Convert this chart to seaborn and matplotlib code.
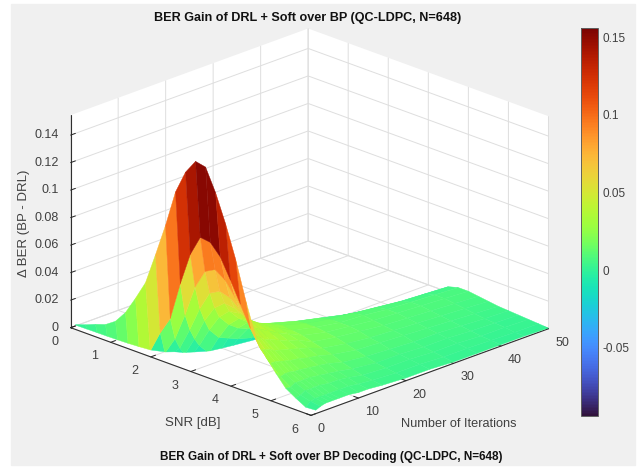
import numpy as np
import matplotlib
matplotlib.use('Agg')
import matplotlib.pyplot as plt
import seaborn as sns
from matplotlib.patches import Rectangle
from mpl_toolkits.mplot3d import proj3d
from mpl_toolkits.mplot3d.art3d import Poly3DCollection

sns.set_style('white')
plt.rcParams['font.family'] = ['Liberation Sans', 'DejaVu Sans']

# values
snr = [0, .25, .5, .75, 1, 1.25, 1.5, 1.75, 2, 2.25, 2.5, 2.75, 3, 3.25, 3.5, 3.75, 4, 4.25, 4.5, 4.75, 5, 5.25, 5.5, 5.75, 6]
iters = [1, 2, 3, 4, 5, 6, 8, 10, 12, 15, 20, 25, 30, 35, 40, 45, 50]

gain_i1 = [.001, .0035, .0065, .009, .014, .023, .036, .05, .073, .097, .124, .141, .1515, .15, .134, .114, .091, .064, .04, .028, .019, .0105, .006, .002, .0025]
gain_i2 = [-.003, -.008, -.012, -.015, -.018, -.02, -.014, -.001, .015, .028, .056, .08, .095, .094, .086, .072, .057, .042, .03, .022, .015, .01, .007, .005, .004]
gain_i3 = [-.006, -.012, -.018, -.024, -.028, -.03, -.026, -.014, -.001, .012, .032, .055, .069, .073, .068, .058, .047, .036, .028, .022, .016, .012, .009, .006, .005]
gain_i4 = [-.008, -.015, -.022, -.03, -.036, -.04, -.036, -.022, -.004, .004, .02, .038, .052, .056, .054, .048, .04, .033, .027, .021, .016, .012, .009, .006, .005]
gain_i5 = [-.01, -.018, -.026, -.034, -.042, -.046, -.042, -.028, -.012, -.002, .012, .028, .04, .046, .045, .042, .036, .03, .025, .02, .015, .012, .009, .006, .005]
gain_i6 = [-.012, -.02, -.03, -.038, -.046, -.05, -.046, -.032, -.018, -.006, .006, .02, .032, .039, .04, .038, .034, .029, .024, .019, .015, .012, .009, .006, .005]
gain_i8 = [-.014, -.024, -.034, -.044, -.052, -.056, -.05, -.038, -.026, -.012, -.002, .012, .024, .031, .033, .032, .03, .026, .022, .018, .014, .011, .008, .006, .005]
gain_i10 = [-.016, -.026, -.038, -.048, -.056, -.06, -.054, -.042, -.03, -.018, -.005, .009, .019, .026, .028, .028, .026, .023, .02, .016, .013, .01, .008, .006, .004]
gain_i12 = [-.017, -.028, -.04, -.05, -.058, -.062, -.056, -.044, -.032, -.02, -.007, .006, .016, .022, .025, .025, .023, .021, .018, .015, .012, .009, .007, .005, .004]
gain_i15 = [-.018, -.03, -.042, -.054, -.062, -.066, -.06, -.048, -.036, -.024, -.01, .003, .013, .019, .02, .019, .018, .016, .014, .012, .009, .007, .005, .004, .003]
gain_i20 = [-.02, -.032, -.046, -.058, -.066, -.07, -.064, -.052, -.04, -.028, -.014, -.002, .008, .014, .015, .015, .014, .013, .011, .009, .007, .005, .004, .003, .002]
gain_i25 = [-.021, -.034, -.048, -.06, -.07, -.074, -.068, -.056, -.044, -.032, -.018, -.006, .003, .01, .012, .012, .012, .011, .009, .008, .006, .005, .004, .003, .002]
gain_i30 = [-.022, -.036, -.05, -.062, -.072, -.076, -.07, -.058, -.046, -.034, -.022, -.01, -.001, .006, .01, .011, .01, .009, .008, .007, .005, .004, .003, .002, .001]
gain_i35 = [-.023, -.037, -.052, -.064, -.074, -.078, -.072, -.06, -.048, -.036, -.024, -.013, -.004, .003, .008, .009, .009, .008, .007, .006, .005, .004, .003, .002, .001]
gain_i40 = [-.024, -.038, -.054, -.066, -.076, -.08, -.074, -.062, -.05, -.038, -.026, -.015, -.006, .001, .006, .008, .008, .007, .006, .005, .004, .003, .002, .0015, .001]
gain_i45 = [-.025, -.039, -.055, -.068, -.078, -.082, -.076, -.064, -.052, -.04, -.028, -.017, -.008, -.001, .005, .007, .007, .006, .005, .004, .003, .0025, .002, .001, .001]
gain_i50 = [-.026, -.04, -.056, -.07, -.08, -.085, -.078, -.066, -.054, -.042, -.03, -.019, -.009, -.003, .004, .006, .006, .005, .004, .003, .0025, .002, .0015, .001, .0005]

gain = np.array([gain_i1, gain_i2, gain_i3, gain_i4, gain_i5, gain_i6, gain_i8, gain_i10, gain_i12,
                 gain_i15, gain_i20, gain_i25, gain_i30, gain_i35, gain_i40, gain_i45, gain_i50])

x_ticks = [0, 1, 2, 3, 4, 5, 6]
y_ticks = [0, 10, 20, 30, 40, 50]
z_ticks = [0, .02, .04, .06, .08, .1, .12, .14]
z_labels = ['0', '0.02', '0.04', '0.06', '0.08', '0.1', '0.12', '0.14']
cb_ticks = [-.05, 0, .05, .1, .15]
cb_labels = ['-0.05', '0', '0.05', '0.1', '0.15']

W, H = 640, 468
GREY = '#404040'

fig = plt.figure(figsize=(W / 100, H / 100), dpi=100, facecolor='white')
fig.add_artist(Rectangle((11 / W, 3 / H), 624 / W, 461 / H, transform=fig.transFigure, color='#f0f0f0', zorder=-5))

side = 560
ax = fig.add_axes([(302 - side / 2) / W, (468 - 229.5 - side / 2) / H, side / W, side / H], projection='3d')
ax.patch.set_alpha(0)
ax.set_proj_type('ortho')
ax.view_init(elev=21.4, azim=-45)
ax.set_box_aspect((338, 334, 227), zoom=.918)
ax.set_xlim(0, 6)
ax.set_ylim(0, 50)
ax.set_zlim(0, .1545)


# cut one facet at the floor, the way the axis limit does in the original
def cut_floor(corners):
    out = []
    for a, b in zip(corners, corners[1:] + corners[:1]):
        if a[2] >= 0:
            out.append(a)
        if (a[2] >= 0) != (b[2] >= 0):
            t = a[2] / (a[2] - b[2])
            out.append((a[0] + t * (b[0] - a[0]), a[1] + t * (b[1] - a[1]), 0))
    return out


cmap = sns.color_palette('turbo', as_cmap=True)
norm = plt.Normalize(-.0938, .1558)
faces, levels = [], []
for r in range(len(iters) - 1):
    for c in range(len(snr) - 1):
        quad = [(snr[c + dc], iters[r + dr], gain[r + dr, c + dc]) for dc, dr in [(0, 0), (1, 0), (1, 1), (0, 1)]]
        part = cut_floor(quad)
        if len(part) >= 3:
            faces.append(part)
            # flat shading: a facet takes the colour of its first corner
            levels.append(quad[0][2])
colors = cmap(norm(levels))
ax.add_collection3d(Poly3DCollection(faces, facecolors=colors, edgecolors=colors, linewidths=.3))

ax.set_xticks(x_ticks)
ax.set_yticks(y_ticks)
ax.set_zticks(z_ticks)
ax.zaxis.set_ticks_position('lower')
ax.tick_params(labelbottom=False, labeltop=False, labelleft=False, labelright=False)


# tick labels placed by hand, mpl's own pad cannot get them where MATLAB has them
def tick_text(x, y, z, label, ha):
    px, py, _ = proj3d.proj_transform(x, y, z, ax.get_proj())
    ax.text2D(px, py, label, transform=ax.transData, fontsize=9, color=GREY, ha=ha, va='center')


for s in x_ticks:
    tick_text(s, -3.4, -.006, str(s), 'center')
for it in y_ticks:
    tick_text(6.17, it, -.0083, str(it), 'left')
for z, lab in zip(z_ticks, z_labels):
    tick_text(0, -2.54, z + .0032, lab, 'right')

for axis in (ax.xaxis, ax.yaxis, ax.zaxis):
    axis.pane.set_facecolor('white')
    axis.pane.set_alpha(1)
    axis.pane.set_edgecolor('none')
    axis.line.set_color('#303030')
    axis.line.set_linewidth(.8)
    axis._axinfo['grid'].update(color='#dedede', linewidth=.7)
    axis._axinfo['tick'].update(inward_factor=0, outward_factor=.25, linewidth={True: .7, False: .5}, color='#303030')

fig.text(308 / W, 1 - 18 / H, 'BER Gain of DRL + Soft over BP (QC-LDPC, N=648)', fontsize=9.1, fontweight='bold', ha='center', va='center', color='#111111')
fig.text(331 / W, 1 - 457 / H, 'BER Gain of DRL + Soft over BP Decoding (QC-LDPC, N=648)', fontsize=8.45, fontweight='bold', ha='center', va='center', color='#111111')
fig.text(193 / W, 1 - 423 / H, 'SNR [dB]', fontsize=9.5, ha='center', va='center', color=GREY)
fig.text(459 / W, 1 - 424 / H, 'Number of Iterations', fontsize=9.2, ha='center', va='center', color=GREY)
fig.text(24 / W, 1 - 223 / H, 'Δ BER (BP - DRL)', fontsize=9.5, rotation=90, ha='center', va='center', color=GREY)

cax = fig.add_axes([581 / W, 1 - 416 / H, 17 / W, 388 / H])
cb = fig.colorbar(plt.cm.ScalarMappable(norm=norm, cmap=cmap), cax=cax)
cb.set_ticks(cb_ticks)
cb.set_ticklabels(cb_labels)
cb.ax.tick_params(labelsize=8.5, labelcolor=GREY, length=2.5, width=.6, pad=3, direction='in', color='#303030')
cb.outline.set_edgecolor('#606060')
cb.outline.set_linewidth(.7)

fig.savefig('out.png', dpi=100, facecolor='white')
